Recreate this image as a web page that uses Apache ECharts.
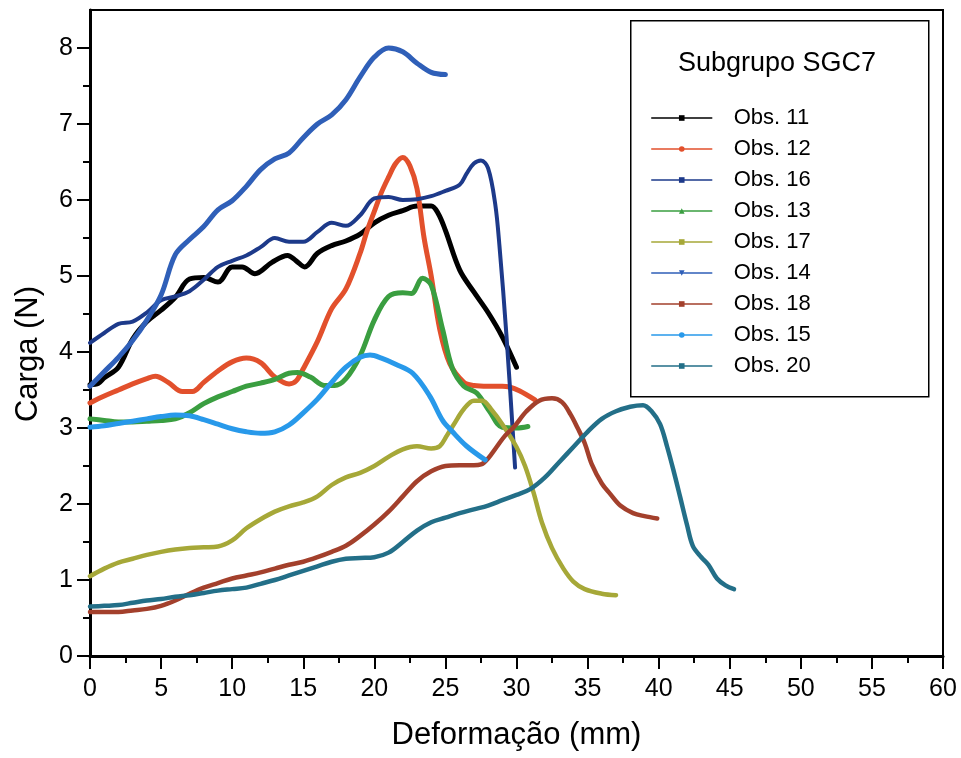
<!DOCTYPE html>
<html>
<head>
<meta charset="utf-8">
<script src="https://cdn.jsdelivr.net/npm/echarts@6/dist/echarts.min.js"></script>
<style>
html,body{margin:0;padding:0;background:#fff;}
#chart{width:961px;height:758px;}
</style>
</head>
<body>
<div id="chart"></div>
<script>
// ---- Data (Deformação mm, Carga N) ----
var seriesNames = ['Obs. 11','Obs. 12','Obs. 16','Obs. 13','Obs. 17','Obs. 14','Obs. 18','Obs. 15','Obs. 20'];
var xTicks = [0,5,10,15,20,25,30,35,40,45,50,55,60];
var yTicks = [0,1,2,3,4,5,6,7,8];
var yMinorTicks = [0.5,1.5,2.5,3.5,4.5,5.5,6.5,7.5];

var obs11 = [[0,3.57],[0.6,3.59],[1,3.66],[2,3.8],[3,4.17],[4,4.4],[5,4.55],[6,4.72],[7,4.96],[8,4.98],[9,4.92],[10,5.12],[10.7,5.12],[11.6,5.03],[12.8,5.18],[13.9,5.27],[14.5,5.2],[15.1,5.12],[16,5.3],[17,5.4],[18,5.46],[19,5.55],[20,5.7],[21,5.8],[22,5.86],[23,5.92],[24,5.92],[24.5,5.82],[25,5.6],[26,5.08],[27,4.79],[28,4.52],[29,4.2],[30,3.8]];
var obs12 = [[0,3.33],[1,3.42],[2,3.5],[3,3.58],[4,3.65],[4.6,3.68],[5.5,3.6],[6.5,3.48],[7.2,3.48],[8,3.6],[9,3.75],[10,3.87],[11,3.92],[12,3.86],[13,3.67],[14,3.58],[14.5,3.62],[15,3.78],[16,4.14],[17,4.57],[18,4.83],[19,5.3],[19.5,5.6],[20,5.85],[20.5,6.1],[21,6.3],[21.5,6.48],[22,6.56],[22.5,6.45],[23,6.15],[23.5,5.5],[24,5.0],[24.6,4.3],[25.3,3.85],[26.3,3.6],[27,3.56],[28,3.55],[29,3.55],[29.5,3.54],[30.2,3.49],[31.3,3.37]];
var obs16 = [[0,4.12],[1,4.25],[2,4.37],[3,4.4],[4,4.52],[5,4.68],[6,4.73],[7,4.8],[8,4.95],[9,5.12],[10,5.2],[11,5.27],[12,5.38],[13,5.5],[14,5.45],[15,5.45],[16,5.58],[17,5.7],[18,5.66],[19,5.8],[20,6.02],[21,6.04],[22,6.0],[23,6.01],[24,6.05],[25,6.12],[26,6.2],[26.5,6.35],[27,6.48],[27.5,6.52],[28,6.42],[28.5,5.95],[28.8,5.4],[29.3,4.2],[29.9,2.48]];
var obs13 = [[0,3.12],[1,3.1],[2,3.08],[3,3.08],[4,3.09],[5,3.1],[6,3.12],[7,3.2],[8,3.32],[9,3.41],[10,3.48],[11,3.55],[12,3.59],[13,3.64],[14,3.72],[14.6,3.73],[15.5,3.67],[16.5,3.56],[17.2,3.56],[18,3.65],[19,3.95],[20,4.42],[21,4.73],[22,4.78],[22.6,4.77],[23.4,4.97],[24,4.88],[24.8,4.3],[25.5,3.78],[26.3,3.55],[27.2,3.46],[28.1,3.22],[29,3.01],[30,3.0],[30.8,3.02]];
var obs17 = [[0,1.05],[1,1.15],[2,1.23],[3,1.28],[4,1.33],[5,1.37],[6,1.4],[7,1.42],[8,1.43],[9,1.44],[10,1.52],[11,1.68],[12,1.8],[13,1.9],[14,1.97],[15,2.02],[16,2.1],[17,2.25],[18,2.35],[19,2.41],[20,2.5],[21,2.62],[22,2.72],[23,2.76],[24,2.73],[24.6,2.76],[25.1,2.9],[25.6,3.05],[26.3,3.25],[27,3.36],[27.6,3.36],[28.2,3.25],[29,3.05],[30,2.75],[30.6,2.5],[31.2,2.15],[31.8,1.75],[32.5,1.42],[33.3,1.15],[34,0.98],[34.8,0.88],[36,0.82],[37,0.8]];
var obs14 = [[0,3.55],[1,3.74],[2,3.93],[3,4.15],[4,4.42],[5,4.75],[6,5.28],[7,5.48],[8,5.65],[9,5.87],[10,5.99],[11,6.18],[12,6.4],[13,6.54],[14,6.62],[15,6.82],[16,7.0],[17,7.12],[18,7.32],[19,7.62],[20,7.88],[21,8.0],[22,7.95],[23,7.8],[24,7.68],[25,7.65]];
var obs18 = [[0,0.58],[1,0.58],[2,0.58],[3,0.6],[4,0.62],[5,0.66],[6,0.73],[7,0.82],[8,0.9],[9,0.96],[10,1.02],[11,1.06],[12,1.1],[13,1.15],[14,1.2],[15,1.24],[16,1.3],[17,1.37],[18,1.45],[19,1.58],[20,1.73],[21,1.9],[22,2.1],[23,2.3],[24,2.43],[25,2.5],[26,2.51],[27,2.51],[27.5,2.52],[28,2.6],[28.6,2.75],[29.2,2.9],[29.8,3.01],[30.7,3.22],[31.6,3.36],[32.5,3.39],[33.2,3.34],[33.8,3.18],[34.3,3.0],[34.8,2.8],[35.3,2.52],[36,2.27],[36.6,2.13],[37.3,1.98],[38.2,1.88],[39,1.84],[39.9,1.81]];
var obs15 = [[0,3.01],[1,3.03],[2,3.06],[3,3.09],[4,3.12],[5,3.15],[6,3.17],[7,3.16],[8,3.11],[9,3.05],[10,2.99],[11,2.95],[12,2.93],[13,2.95],[14,3.04],[15,3.2],[16,3.38],[17,3.6],[18,3.8],[19,3.93],[19.7,3.96],[20.5,3.92],[21.5,3.84],[22.7,3.72],[23.9,3.42],[24.8,3.1],[25.5,2.95],[26.5,2.76],[27.8,2.58]];
var obs20 = [[0,0.65],[1,0.66],[2,0.67],[3,0.7],[4,0.73],[5,0.75],[6,0.78],[7,0.8],[8,0.83],[9,0.86],[10,0.88],[11,0.9],[12,0.95],[13,1.0],[14,1.06],[15,1.12],[16,1.18],[17,1.24],[18,1.28],[19,1.29],[20,1.3],[21,1.36],[22,1.5],[23,1.65],[24,1.76],[25,1.82],[26,1.88],[27,1.93],[28,1.98],[29,2.05],[30,2.12],[31,2.2],[32,2.35],[33,2.55],[34,2.75],[35,2.95],[36,3.12],[37,3.22],[38,3.28],[38.9,3.3],[39.5,3.22],[40.1,3.05],[40.6,2.75],[41.1,2.4],[41.5,2.1],[42,1.72],[42.4,1.45],[43,1.3],[43.5,1.2],[44.1,1.02],[44.7,0.93],[45.3,0.88]];

var seriesData = [obs11, obs12, obs16, obs13, obs17, obs14, obs18, obs15, obs20];
var seriesColors = ['#000000','#e2502c','#1d3a8a','#3a9e40','#a6a838','#2f5fb8','#a3402c','#2899ea','#236f88'];
var seriesSymbols = ['rect','circle','rect','triangle','rect','path://M0,0 L10,0 L5,10 Z','rect','circle','rect'];
var seriesWidths = [5,5,4,5,4.5,5,4.5,5,4.5];

var FONT = '"Liberation Sans", Arial, sans-serif';

var chart = echarts.init(document.getElementById('chart'), null, {renderer:'canvas'});

var series = seriesNames.map(function(name, i){
  return {
    name: name,
    type: 'line',
    data: seriesData[i],
    smooth: 0.35,
    symbol: seriesSymbols[i],
    symbolSize: 5,
    showSymbol: false,
    lineStyle: {width: seriesWidths[i], color: seriesColors[i], cap: 'round', join: 'round'},
    itemStyle: {color: seriesColors[i]},
    emphasis: {disabled: true}
  };
});

var option = {
  animation: false,
  backgroundColor: '#ffffff',
  grid: {left: 90, right: 18, top: 10, bottom: 102, show: true, borderColor: '#000', borderWidth: 2, backgroundColor: 'transparent'},
  xAxis: {
    type: 'value', min: 0, max: 60, interval: 5,
    name: 'Deformação (mm)', nameLocation: 'middle', nameGap: 64,
    nameTextStyle: {fontFamily: FONT, fontSize: 31, color: '#000'},
    axisLine: {show: true, onZero: false, lineStyle: {color: '#000', width: 3}},
    axisTick: {show: true, inside: false, length: 13, lineStyle: {color: '#000', width: 2}},
    minorTick: {show: true, splitNumber: 2, length: 7, lineStyle: {color: '#000', width: 2}},
    axisLabel: {fontFamily: FONT, fontSize: 25, color: '#000', margin: 21, customValues: xTicks},
    splitLine: {show: false}
  },
  yAxis: [{
    type: 'value', min: 0, max: 8.5,
    axisLine: {show: true, onZero: false, lineStyle: {color: '#000', width: 3}},
    axisTick: {show: true, inside: false, length: 13, lineStyle: {color: '#000', width: 2}, customValues: yTicks},
    axisLabel: {fontFamily: FONT, fontSize: 25, color: '#000', margin: 17, customValues: yTicks},
    splitLine: {show: false}
  },{
    type: 'value', min: 0, max: 8.5, position: 'left',
    axisLine: {show: false},
    axisTick: {show: true, inside: false, length: 7, lineStyle: {color: '#000', width: 2}, customValues: yMinorTicks},
    axisLabel: {show: false},
    splitLine: {show: false}
  }],
  legend: {
    data: seriesNames,
    orient: 'vertical',
    left: 651, top: 107,
    padding: 0,
    itemWidth: 60, itemHeight: 7, itemGap: 9,
    lineStyle: {width: 1.5},
    textStyle: {fontFamily: FONT, fontSize: 22, color: '#000', lineHeight: 22, padding: [0,0,0,17]},
    selectedMode: false
  },
  graphic: [
    {type: 'rect', left: 630, top: 20, shape: {width: 298, height: 376}, style: {fill: 'transparent', stroke: '#000', lineWidth: 1.5}, z: 0},
    {type: 'text', x: 777, y: 64, style: {text: 'Subgrupo SGC7', font: '27px ' + FONT, fill: '#000', textAlign: 'center', textVerticalAlign: 'middle'}},
    {type: 'text', x: 28, y: 354, rotation: Math.PI / 2, style: {text: 'Carga (N)', font: '31px ' + FONT, fill: '#000', textAlign: 'center', textVerticalAlign: 'middle'}}
  ],
  series: series
};
chart.setOption(option);
</script>
</body>
</html>
